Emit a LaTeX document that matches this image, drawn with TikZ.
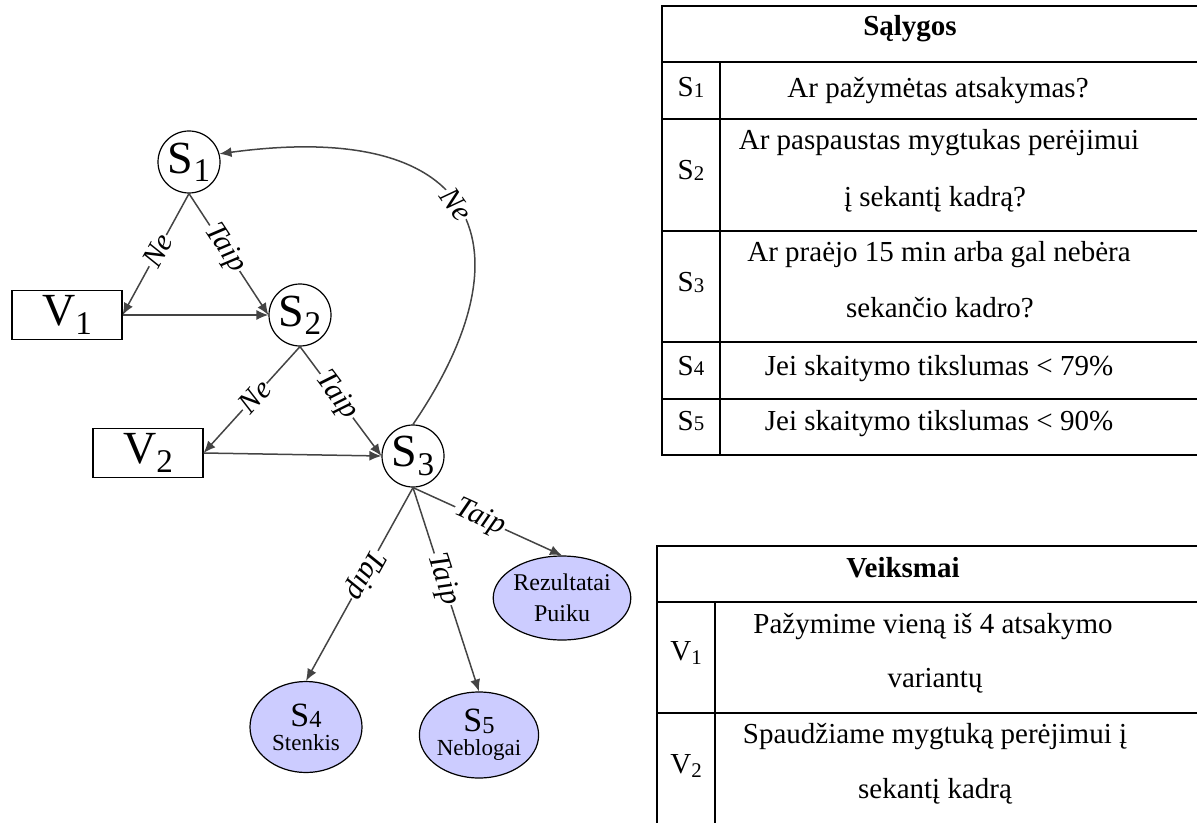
\documentclass[tikz,border=0pt]{standalone}
\usepackage{fontspec}
\setmainfont{Liberation Serif}
\usetikzlibrary{shapes,arrows.meta}
\definecolor{EdgeGrey}{RGB}{68,68,68}
\definecolor{Lavender}{RGB}{204,204,255}
\tikzstyle{state} = [circle, draw = black, line width=0.6pt, minimum size=31pt, inner sep=0pt, font=\fontsize{23}{23}\selectfont]
\tikzstyle{action} = [rectangle, draw = black, line width=0.6pt, minimum width=55pt, minimum height=24.5pt, inner sep=0pt, font=\fontsize{23}{23}\selectfont]
\tikzstyle{result} = [ellipse, draw = black, line width=0.6pt, fill = Lavender, inner sep=0pt, align=center]
\tikzstyle{line} = [draw = EdgeGrey, line width=0.75pt, -{Latex[length=6pt,width=5pt]}]
\tikzstyle{cond} = [font=\fontsize{15}{15}\selectfont\itshape, fill = white, inner sep=0.5pt, sloped]
\tikzstyle{tabline} = [line width=1pt]
\tikzstyle{cell} = [anchor=base, inner sep=0pt, font=\fontsize{14.5}{14.5}\selectfont]
\newcommand{\Sub}[2][.15em]{\raisebox{-#1}{\scalebox{.72}{#2}}}

\begin{document}
\begin{tikzpicture}[x=0.5pt, y=-0.5pt]
    \useasboundingbox (0,0) rectangle (1197,823);

    \node (s1)  [state]  at (189,162) {S\Sub[.18em]{1}};
    \node (v1)  [action] at (67,315)  {V\Sub[.18em]{1}};
    \node (s2)  [state]  at (300,315) {S\Sub[.18em]{2}};
    \node (v2)  [action] at (148,453) {V\Sub[.18em]{2}};
    \node (s3)  [state]  at (413,456) {S\Sub[.18em]{3}};
    \node (s4)  [result, minimum width=56pt, minimum height=45.5pt,
                 font=\fontsize{11.5}{12}\selectfont] at (306,727)
                {{\fontsize{17}{17}\selectfont S\Sub[.05em]{4}}\\Stenkis};
    \node (s5)  [result, minimum width=56pt, minimum height=43pt,
                 font=\fontsize{11.5}{12}\selectfont] at (479,735)
                {{\fontsize{17}{17}\selectfont S\Sub[.05em]{5}}\\Neblogai};
    \node (rez) [result, minimum width=60pt, minimum height=42pt,
                 font=\fontsize{12}{15.5}\selectfont] at (562,598)
                {Rezultatai\\Puiku};

    \path [line] (s1.south) -- node[cond, pos=.47] {Ne}   (v1.east);
    \path [line] (s1.south) -- node[cond, pos=.45] {Taip} (s2.west);
    \path [line] (v1.east)  -- (s2.west);
    \path [line] (s2.south) -- node[cond, pos=.47] {Ne}   (v2.east);
    \path [line] (s2.south) -- node[cond, pos=.45] {Taip} (s3.west);
    \path [line] (v2.east)  -- (s3.west);
    \path [line] (s3.north) .. controls (532,250) and (484,118) ..
                 node[cond, pos=.52] {Ne} (s1.15);
    \path [line] (s3.south) -- node[cond, pos=.45, allow upside down] {Taip} (s4.north);
    \path [line] (s3.south) -- node[cond, pos=.45] {Taip} (s5.north);
    \path [line] (s3.south) -- node[cond, pos=.45] {Taip} (rez.north);

    \draw [tabline] (1197,6) -- (662,6) -- (662,455) -- (1197,455)
                    (662,62) -- (1197,62)  (662,119) -- (1197,119)
                    (662,231) -- (1197,231) (662,342) -- (1197,342)
                    (662,399) -- (1197,399) (720,62) -- (720,455);
    \node (hdrs)  [cell, font=\fontsize{14.5}{14.5}\selectfont\bfseries] at (910,36) {Sąlygos};
    \node (s1lbl) [cell] at (691,97)  {S\Sub[.02em]{1}};
    \node (s1txt) [cell] at (938,98)  {Ar pažymėtas atsakymas?};
    \node (s2lbl) [cell] at (691,180) {S\Sub[.02em]{2}};
    \node (s2txa) [cell] at (939,150) {Ar paspaustas mygtukas perėjimui};
    \node (s2txb) [cell] at (935,207) {į sekantį kadrą?};
    \node (s3lbl) [cell] at (691,292) {S\Sub[.02em]{3}};
    \node (s3txa) [cell] at (939,262) {Ar praėjo 15 min arba gal nebėra};
    \node (s3txb) [cell] at (940,317) {sekančio kadro?};
    \node (s4lbl) [cell] at (691,375) {S\Sub[.02em]{4}};
    \node (s4txt) [cell] at (939,375) {Jei skaitymo tikslumas < 79\%};
    \node (s5lbl) [cell] at (691,430) {S\Sub[.02em]{5}};
    \node (s5txt) [cell] at (939,430) {Jei skaitymo tikslumas < 90\%};

    \draw [tabline] (1197,546) -- (657,546) -- (657,823)
                    (657,602) -- (1197,602) (657,713) -- (1197,713)
                    (715,602) -- (715,823);
    \node (hdrv)  [cell, font=\fontsize{14.5}{14.5}\selectfont\bfseries] at (903,577) {Veiksmai};
    \node (v1lbl) [cell] at (686,660) {V\Sub[.14em]{1}};
    \node (v1txa) [cell] at (933,633) {Pažymime vieną iš 4 atsakymo};
    \node (v1txb) [cell] at (935,687) {variantų};
    \node (v2lbl) [cell] at (686,773) {V\Sub[.14em]{2}};
    \node (v2txa) [cell] at (935,743) {Spaudžiame mygtuką perėjimui į};
    \node (v2txb) [cell] at (935,798) {sekantį kadrą};
\end{tikzpicture}
\end{document}
